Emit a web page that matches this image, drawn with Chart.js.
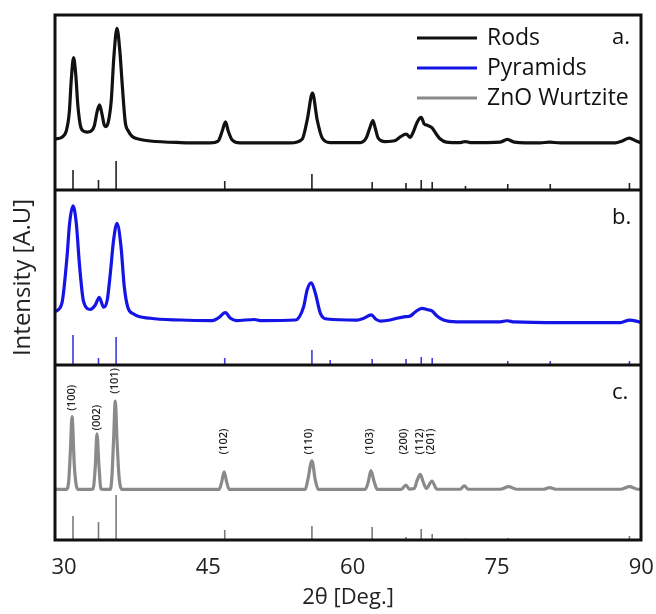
<!DOCTYPE html>
<html>
<head>
<meta charset="utf-8">
<script src="https://cdn.jsdelivr.net/npm/chart.js@4"></script>
<style>
  body { margin: 0; background: #fff; }
  #xrd { display: block; }
</style>
</head>
<body>
<canvas id="xrd" width="656" height="614"></canvas>
<script>
// x axis
const xTicks = [30, 45, 60, 75, 90];
const legendLabels = ["Rods", "Pyramids", "ZnO Wurtzite"];
const panelLabels = ["a.", "b.", "c."];

// measured patterns, 2theta (deg) and intensity (a.u., 0-100 per panel)
const rods2t = [29.9, 30.66, 31.07, 31.39, 31.59, 31.83, 32.06, 32.27, 32.53, 32.84, 33.26, 33.67, 33.98, 34.29, 34.53, 34.76, 35.02, 35.18, 35.44, 35.75, 36.01, 36.34, 36.63, 36.89, 37.2, 37.52, 37.93, 38.76, 39.8, 42.92, 46.03, 46.86, 47.28, 47.62, 47.9, 48.31, 49.14, 54.35, 55.59, 56.11, 56.66, 57.15, 57.67, 58.5, 61.62, 62.24, 62.61, 62.94, 63.18, 63.49, 64.22, 65.26, 65.78, 66.4, 66.82, 67.13, 67.55, 67.96, 68.27, 68.55, 69.07, 69.52, 69.94, 70.56, 72.02, 72.54, 73.06, 76.18, 76.9, 77.63, 80.33, 81.27, 82.41, 88.13, 88.85, 89.58, 90.31, 90.8];
const rodsI = [29.1, 30.3, 33.7, 44.6, 62.9, 75.6, 65.7, 48.6, 37.1, 33.7, 33.1, 33.7, 36.6, 45.1, 48.6, 44.0, 37.1, 36.2, 38.9, 51.4, 75.4, 92.4, 80.0, 60.0, 38.9, 33.7, 30.6, 28.9, 28.0, 27.1, 26.9, 28.0, 33.7, 39.0, 33.7, 28.6, 26.9, 26.9, 29.1, 40.0, 55.3, 40.0, 29.7, 27.1, 27.1, 29.7, 35.4, 39.7, 35.4, 29.7, 27.7, 28.3, 30.3, 32.0, 30.1, 33.1, 38.9, 41.5, 37.7, 37.1, 35.6, 32.0, 29.1, 27.4, 27.1, 27.7, 27.1, 27.4, 28.9, 27.4, 26.9, 27.4, 26.9, 26.9, 28.0, 29.7, 28.0, 26.9];

const pyr2t = [29.93, 30.62, 31.15, 31.42, 31.77, 32.11, 32.46, 32.87, 33.57, 34.09, 34.5, 34.95, 35.33, 35.65, 35.99, 36.34, 36.76, 37.1, 37.45, 38.07, 39.8, 42.92, 46.26, 46.87, 47.6, 48.11, 48.74, 50.61, 51.24, 54.88, 55.74, 56.1, 56.54, 56.96, 57.48, 58.17, 61.29, 61.94, 62.77, 63.29, 63.71, 64.75, 65.44, 66.31, 66.82, 67.34, 68.03, 68.55, 69.07, 69.59, 70.28, 71.67, 76.18, 76.87, 77.63, 82.41, 88.65, 89.62, 90.31, 90.8];
const pyrI = [30.5, 35.4, 61.9, 81.1, 90.9, 81.1, 56.2, 36.2, 31.8, 34.3, 38.7, 33.0, 37.1, 52.4, 71.4, 81.0, 67.6, 44.7, 33.3, 29.1, 26.7, 25.7, 25.4, 26.9, 29.9, 26.9, 25.4, 26.0, 25.4, 25.7, 33.3, 42.9, 47.0, 41.0, 29.5, 26.3, 25.7, 26.6, 28.6, 26.0, 25.1, 25.7, 26.7, 27.6, 28.0, 30.3, 32.4, 31.7, 30.9, 28.0, 25.7, 24.7, 24.7, 25.3, 24.6, 24.2, 24.2, 25.7, 25.1, 24.2];

const zno2t = [29.9, 31.07, 31.31, 31.49, 31.67, 31.91, 32.12, 32.32, 33.85, 34.09, 34.26, 34.47, 34.68, 35.65, 35.82, 35.99, 36.17, 36.34, 36.55, 36.86, 46.96, 47.22, 47.48, 47.74, 48.0, 55.91, 56.17, 56.6, 56.95, 57.26, 62.14, 62.45, 62.73, 63.08, 63.39, 65.88, 66.37, 66.71, 67.23, 67.55, 67.86, 68.17, 68.49, 69.07, 69.59, 72.02, 72.43, 72.85, 76.18, 77.04, 77.84, 80.64, 81.3, 82.0, 88.65, 89.62, 90.42, 90.8];
const znoI = [29.0, 28.9, 32.7, 49.9, 70.5, 42.3, 30.9, 28.9, 29.1, 42.3, 60.7, 42.3, 29.1, 28.9, 36.6, 57.7, 79.4, 57.7, 36.6, 28.9, 28.9, 33.1, 39.0, 33.1, 28.9, 28.9, 34.3, 45.3, 34.3, 28.9, 28.9, 33.1, 39.6, 33.1, 28.9, 28.9, 31.4, 29.1, 29.4, 34.3, 37.5, 33.1, 29.5, 33.7, 29.0, 29.0, 30.9, 29.0, 29.0, 30.5, 29.0, 29.0, 29.9, 29.0, 29.0, 30.5, 29.0, 29.0];

// reference sticks
const refPos = [31.77, 34.42, 36.25, 47.54, 56.6, 62.86, 66.38, 67.96, 69.1, 72.56, 76.95, 81.37, 89.6];
const refRodsI = [11.4, 5.7, 16.6, 5.1, 9.1, 4.6, 4.0, 5.7, 4.6, 2.3, 3.4, 3.4, 4.0];
const refPyrPos = [31.77, 34.42, 36.25, 47.54, 56.6, 58.5, 62.86, 66.38, 67.96, 69.1, 76.95, 81.37, 89.6];
const refPyrI = [17.1, 4.0, 16.0, 4.0, 8.6, 2.9, 3.4, 3.4, 4.6, 4.0, 2.3, 2.3, 2.3];
const refZnoI = [13.7, 10.3, 25.7, 5.7, 8.0, 7.4, 1.7, 6.3, 3.4, 0.9, 1.1, 0.6, 2.3];

// miller indices over the wurtzite pattern
const hklLabels = ["(100)", "(002)", "(101)", "(102)", "(110)", "(103)", "(200)", "(112)", "(201)"];
const hkl2t = [31.67, 34.26, 36.17, 47.42, 56.28, 62.66, 66.19, 67.78, 68.97];
const hklY = [81.3, 69.9, 90.9, 56.3, 56.3, 56.3, 56.3, 56.3, 56.3];

const BLACK = "#111111", BLUE = "#1414e6", GRAY = "#8a8a8a";

function pts(xs, ys) {
    return xs.map((x, i) => ({ x: x, y: ys[i] }));
}
function sticks(xs, hs) {
    return xs.flatMap((x, i) => [{ x: x, y: 0 }, { x: x, y: hs[i] }, { x: x, y: null }]);
}
function curve(label, data, color, axis) {
    return {
        label: label, data: data, yAxisID: axis, borderColor: color, borderWidth: 3.2,
        pointRadius: 0, cubicInterpolationMode: "monotone", fill: false,
    };
}
function stickSet(data, color, axis) {
    return {
        label: "", data: data, yAxisID: axis, borderColor: color, borderWidth: 1.6,
        pointRadius: 0, spanGaps: false, fill: false,
    };
}

const framePlugin = {
    id: "frame",
    afterDatasetsDraw(chart) {
        const { ctx, chartArea: a, scales } = chart;
        const yf = scales.yf, x = scales.x;
        ctx.save();
        ctx.strokeStyle = "#111";
        ctx.lineWidth = 3;
        ctx.strokeRect(a.left, a.top, a.right - a.left, a.bottom - a.top);
        [1, 2].forEach((v) => {
            const py = yf.getPixelForValue(v);
            ctx.beginPath();
            ctx.moveTo(a.left, py);
            ctx.lineTo(a.right, py);
            ctx.stroke();
        });

        // legend
        ctx.font = "23px 'Open Sans'";
        ctx.textBaseline = "middle";
        ctx.textAlign = "left";
        legendLabels.forEach((lab, i) => {
            const ly = a.top + 23 + i * 30;
            ctx.strokeStyle = chart.data.datasets[i].borderColor;
            ctx.lineWidth = 3;
            ctx.beginPath();
            ctx.moveTo(a.right - 224, ly);
            ctx.lineTo(a.right - 164, ly);
            ctx.stroke();
            ctx.fillStyle = "#111";
            ctx.fillText(lab, a.right - 154, ly);
        });

        // panel letters
        ctx.font = "22px 'Open Sans'";
        const offs = [23, 28, 28];
        panelLabels.forEach((lab, i) => {
            const top = yf.getPixelForValue(3 - i);
            ctx.fillText(lab, a.right - 29, top + offs[i]);
        });

        // hkl labels
        const yc = scales.yc;
        ctx.font = "600 11px 'Open Sans'";
        ctx.fillStyle = "#222";
        ctx.textAlign = "center";
        hklLabels.forEach((lab, i) => {
            ctx.save();
            ctx.translate(x.getPixelForValue(hkl2t[i]), yc.getPixelForValue(hklY[i]));
            ctx.rotate(-Math.PI / 2);
            ctx.fillText(lab, 0, 0);
            ctx.restore();
        });
        ctx.restore();
    },
};

Chart.defaults.font.family = "'Open Sans', sans-serif";
Chart.defaults.color = "#222";

new Chart(document.getElementById("xrd"), {
    type: "line",
    data: {
        datasets: [
            curve(legendLabels[0], pts(rods2t, rodsI), BLACK, "ya"),
            curve(legendLabels[1], pts(pyr2t, pyrI), BLUE, "yb"),
            curve(legendLabels[2], pts(zno2t, znoI), GRAY, "yc"),
            stickSet(sticks(refPos, refRodsI), "#222", "ya"),
            stickSet(sticks(refPyrPos, refPyrI), "#3c3ce0", "yb"),
            stickSet(sticks(refPos, refZnoI), "#7a7a7a", "yc"),
        ],
    },
    options: {
        responsive: false,
        animation: false,
        layout: { padding: { top: 15, right: 15, left: 0, bottom: 0 } },
        plugins: { legend: { display: false }, tooltip: { enabled: false } },
        scales: {
            x: {
                type: "linear", min: 29.9, max: 90.8,
                afterBuildTicks: (s) => { s.ticks = xTicks.map((v) => ({ value: v })); },
                ticks: { font: { size: 22 }, color: "#222", padding: 15, labelOffset: 8, maxRotation: 0, autoSkip: false },
                grid: { display: false, drawTicks: false },
                border: { display: false },
                title: { display: true, text: "2θ [Deg.]", font: { size: 22 }, color: "#222", padding: { top: 0, bottom: 3 } },
                afterFit: (s) => { s.height = 74; s.paddingLeft = 0; s.paddingRight = 0; },
            },
            yf: {
                position: "left", min: 0, max: 3,
                ticks: { display: false },
                grid: { display: false, drawTicks: false },
                border: { display: false },
                title: { display: true, text: "Intensity [A.U]", font: { size: 24 }, color: "#222", padding: { top: 9, bottom: 0 } },
                afterFit: (s) => { s.width = 55; },
            },
            ya: { display: false, min: -200, max: 100 },
            yb: { display: false, min: -100, max: 200 },
            yc: { display: false, min: 0, max: 300 },
        },
    },
    plugins: [framePlugin],
});
</script>
</body>
</html>
